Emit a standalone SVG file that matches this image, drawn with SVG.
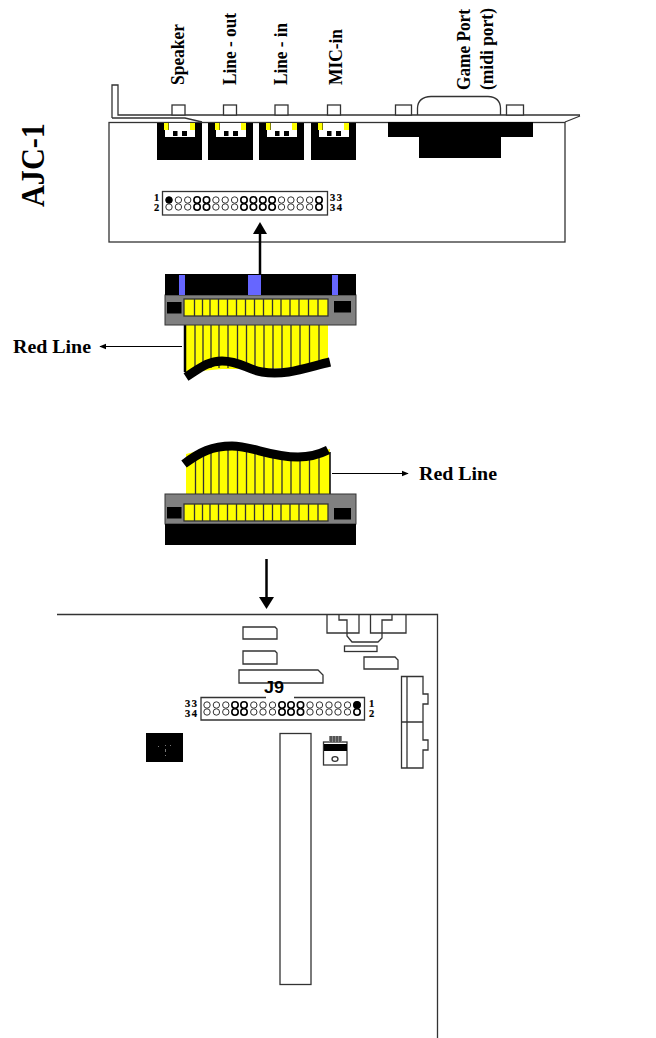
<svg xmlns="http://www.w3.org/2000/svg" width="656" height="1038" viewBox="0 0 656 1038">
<style>
.l{fill:none;stroke:#333;stroke-width:1.300}
.w{fill:#fff;stroke:#333;stroke-width:1.300}
.k{fill:#000}
.y{fill:#ff0}
.b{fill:#6666ff}
.g{fill:#808080;stroke:#333;stroke-width:1}
.s{fill:none;stroke:#333;stroke-width:1.300}
.wv{fill:none;stroke:#000;stroke-width:9}
.a{stroke:#000;fill:none}
.t{font-family:"Liberation Serif","Times New Roman",serif;font-weight:bold;fill:#000}
.n{font-size:10.500px;stroke:#000;stroke-width:.2}
.r{font-size:19px}
.p{font-family:"Liberation Sans",Arial,sans-serif;font-weight:bold;fill:#000}
.c circle{fill:#fff;stroke:#333;stroke-width:1}
.c.h circle{stroke:#000;stroke-width:1.600}
</style>
<defs>
<g id="col" class="c"><circle cx="0" cy="0" r="3.200"/><circle cx="0" cy="7" r="3.200"/></g>
<g id="colb" class="c h"><circle cx="0" cy="0" r="3.200"/><circle cx="0" cy="7" r="3.200"/></g>
<g id="jack">
<rect class="k" x="0" y="0" width="45" height="37"/>
<path fill="#fff" d="M8 7H12V0H33V7H38V14H8Z"/>
<rect class="y" x="7" y="0" width="4.500" height="7"/><rect class="y" x="33" y="0" width="5" height="7"/>
<rect class="k" x="16" y="8" width="4.500" height="5"/><rect class="k" x="25" y="8" width="5" height="5"/>
</g>
<g id="cells">
<rect x="184" y="0" width="144" height="17" class="y" stroke="#333" stroke-width="1.300"/>
<path class="s" d="M194.500 0V17M202.500 0V17M210 0V17M218.500 0V17M227.500 0V17M236.500 0V17M245.500 0V17M254.500 0V17M263.500 0V17M272.500 0V17M281 0V17M290 0V17M299 0V17M308.500 0V17M318 0V17"/>
</g>
<marker id="tri" viewBox="0 0 10 10" refX="9" refY="5" markerWidth="7" markerHeight="7" markerUnits="userSpaceOnUse" orient="auto"><path d="M0 1L10 5L0 9Z" fill="#000"/></marker>
</defs>

<g id="card">
<path class="l" d="M112 118V85H118V115H580M112 118H185L202 122M565 122L580 116"/>
<rect class="l" x="109" y="122.500" width="456" height="119.500"/>
<path id="game-shell" class="l" d="M417.500 115V108Q418 97 431 96.500H488Q500 97 500.500 108V115"/>
<rect class="w" x="172" y="105" width="13" height="10"/>
<rect class="w" x="223.500" y="105" width="13" height="10"/>
<rect class="w" x="275" y="105" width="13" height="10"/>
<rect class="w" x="327.500" y="105" width="13" height="10"/>
<rect class="w" x="395.500" y="105" width="16" height="10"/>
<rect class="w" x="506.500" y="105" width="17" height="10"/>
<path class="k" d="M388 122H533V137H501V158H419V137H388Z"/>
</g>
<g id="jack-speaker"><use href="#jack" x="157" y="123"/></g>
<g id="jack-lineout"><use href="#jack" x="208" y="123"/></g>
<g id="jack-linein"><use href="#jack" x="259" y="123"/></g>
<g id="jack-mic"><use href="#jack" x="311" y="123"/></g>

<g id="labels-top">
<text class="t r" transform="translate(184,85) rotate(-90)" textLength="61" lengthAdjust="spacingAndGlyphs">Speaker</text>
<text class="t r" transform="translate(236,85) rotate(-90)" textLength="72" lengthAdjust="spacingAndGlyphs">Line - out</text>
<text class="t r" transform="translate(287,85) rotate(-90)" textLength="62" lengthAdjust="spacingAndGlyphs">Line - in</text>
<text class="t r" transform="translate(342,85) rotate(-90)" textLength="56" lengthAdjust="spacingAndGlyphs">MIC-in</text>
<text class="t r" transform="translate(470,90) rotate(-90)" textLength="81" lengthAdjust="spacingAndGlyphs">Game Port</text>
<text class="t r" transform="translate(493,90) rotate(-90)" textLength="82" lengthAdjust="spacingAndGlyphs">(midi port)</text>
<text class="t" font-size="34" transform="translate(44,207) rotate(-90)" textLength="84" lengthAdjust="spacingAndGlyphs">AJC-1</text>
</g>

<g id="header-top">
<rect class="w" x="162.500" y="191.500" width="165" height="23.500"/>
<use href="#col" x="169" y="200"/><use href="#col" x="178.400" y="200"/><use href="#col" x="187.700" y="200"/><use href="#colb" x="197.100" y="200"/><use href="#colb" x="206.500" y="200"/><use href="#col" x="215.900" y="200"/><use href="#col" x="225.200" y="200"/><use href="#col" x="234.600" y="200"/><use href="#colb" x="244" y="200"/><use href="#colb" x="253.400" y="200"/><use href="#colb" x="262.800" y="200"/><use href="#colb" x="272.100" y="200"/><use href="#col" x="281.500" y="200"/><use href="#col" x="290.900" y="200"/><use href="#col" x="300.200" y="200"/><use href="#col" x="309.600" y="200"/><use href="#colb" x="319" y="200"/>
<circle class="k" cx="169" cy="200" r="3.500"/>
<text class="t n" x="154" y="201">1</text><text class="t n" x="154" y="211">2</text>
<text class="t n" x="330" y="201" textLength="12">33</text><text class="t n" x="330" y="211" textLength="12">34</text>
</g>

<g id="ribbon-top">
<path class="y" d="M185 325H328V366L262 369L222 369L190 372L185 374Z"/>
<path class="s" d="M195 325V369M203 325V368M211 325V368M219 325V368M228 325V368M237.500 325V368M246.500 325V368M255 325V370M264 325V372M273 325V372M282 325V372M291 325V372M300 325V368M309.500 325V368M319 325V365"/>
<path stroke="#000" stroke-width="2.500" fill="none" d="M185 325V372"/>
<path class="wv" d="M186 377C200 368 208 361 222 361C240 361 248 370 262 372C285 376 305 368 330 362"/>
<rect class="g" x="165" y="295" width="191" height="30"/>
<rect class="k" x="165" y="274" width="191" height="21"/>
<rect class="b" x="179" y="275" width="6" height="20"/><rect class="b" x="248" y="275" width="13" height="20"/><rect class="b" x="332" y="275" width="6" height="20"/>
<rect class="k" x="167" y="302" width="14.500" height="11.500"/><rect class="k" x="334" y="301" width="17" height="11.500"/>
<use href="#cells" y="299"/>
</g>

<g id="ribbon-bottom">
<path class="y" d="M186 454L222 445L262 453L300 456L330 449V494H186Z"/>
<path class="s" d="M195.500 455V494M203.500 452V494M211 450V494M219 450V494M228 450V494M237.500 450V494M246.500 450V494M255 450V494M264 455V494M273 457V494M282 460V494M291 460V494M300 460V494M309.500 460V494M319 456V494"/>
<path stroke="#000" stroke-width="1.500" fill="none" d="M330 452V494"/>
<path class="wv" d="M184 464C200 452 212 446 232 446C252 446 270 457 298 457C310 457 318 455 328 450"/>
<rect class="g" x="165" y="494" width="191" height="30"/>
<rect class="k" x="165" y="524" width="191" height="21"/>
<rect class="k" x="167" y="507" width="14.500" height="11.500"/><rect class="k" x="334" y="508" width="17" height="11.500"/>
<use href="#cells" y="504"/>
</g>

<g id="connectors">
<path class="a" stroke-width="2.500" d="M260 274V234"/><path class="k" d="M260 222L267 234H253Z"/>
<path class="a" stroke-width="2.500" d="M266.500 559V598"/><path class="k" d="M266.500 609L259 597H274Z"/>
<path class="a" stroke-width="1" marker-end="url(#tri)" d="M182 346.500H100"/>
<path class="a" stroke-width="1" marker-end="url(#tri)" d="M332 473.500H408"/>
</g>
<g id="label-red-left"><text class="t" font-size="18" x="13" y="353" textLength="78" lengthAdjust="spacingAndGlyphs">Red Line</text></g>
<g id="label-red-right"><text class="t" font-size="18" x="419" y="480" textLength="78" lengthAdjust="spacingAndGlyphs">Red Line</text></g>

<g id="board">
<path class="l" d="M57 614.500H437.500V1038"/>
<path class="l" d="M243 627H275L277 629V639H243Z"/>
<path class="l" d="M243 651H275L277 653V664H243Z"/>
<path class="l" d="M239 670H318L323 675V683H239Z"/>
<rect class="l" x="344.500" y="646" width="32.500" height="5.500"/>
<path class="l" d="M364 657H395L398 660V669H364Z"/>
<path class="l" d="M327 614V633H359V614M370.500 614V633H406V614"/>
<path class="l" d="M339 614V620H347V636L352 642H378L382 638V620H392V614"/>
<path class="l" d="M401.500 676.500H423V694H428V704H423V740H428V750H423V768H401.500ZM407 676.500V768M401.500 722H423"/>
<rect class="l" x="280" y="733.500" width="31" height="251"/>
<rect class="k" x="146" y="733" width="37" height="29"/>
<g fill="#777"><rect x="165" y="745" width="1" height="1"/><rect x="158" y="746" width="1" height="1"/><rect x="165" y="749" width="1" height="3"/><rect x="165" y="755" width="1" height="1"/><rect x="170" y="745" width="1" height="1"/></g>
<g id="regulator">
<rect class="w" x="323.500" y="742" width="23.500" height="23"/>
<rect class="k" x="324" y="744" width="23" height="7"/>
<rect x="329" y="736" width="13" height="6" fill="#888"/>
<path stroke="#222" stroke-width="1" fill="none" d="M331 736V742M334 736V742M337 736V742M340 736V742"/>
<ellipse class="w" cx="335" cy="759" rx="3" ry="2.300"/>
</g>
</g>

<g id="header-j9">
<path class="l" d="M266 697.500H201V720H364.500V697.500H294"/>
<use href="#col" x="207" y="705"/><use href="#col" x="216.400" y="705"/><use href="#col" x="225.800" y="705"/><use href="#colb" x="235" y="705"/><use href="#colb" x="244" y="705"/><use href="#col" x="253.800" y="705"/><use href="#col" x="263" y="705"/><use href="#col" x="272.500" y="705"/><use href="#colb" x="282" y="705"/><use href="#colb" x="291" y="705"/><use href="#colb" x="300.500" y="705"/><use href="#col" x="310" y="705"/><use href="#col" x="319.500" y="705"/><use href="#col" x="329" y="705"/><use href="#col" x="338" y="705"/><use href="#col" x="347.500" y="705"/><use href="#colb" x="357" y="705"/>
<circle class="k" cx="357" cy="705" r="3.500"/>
<text class="p" font-size="16" x="264" y="693" textLength="20" lengthAdjust="spacingAndGlyphs">J9</text>
<text class="t n" x="185" y="707" textLength="12">33</text><text class="t n" x="185" y="717" textLength="12">34</text>
<text class="t n" x="369" y="707">1</text><text class="t n" x="369" y="717">2</text>
</g>
</svg>
